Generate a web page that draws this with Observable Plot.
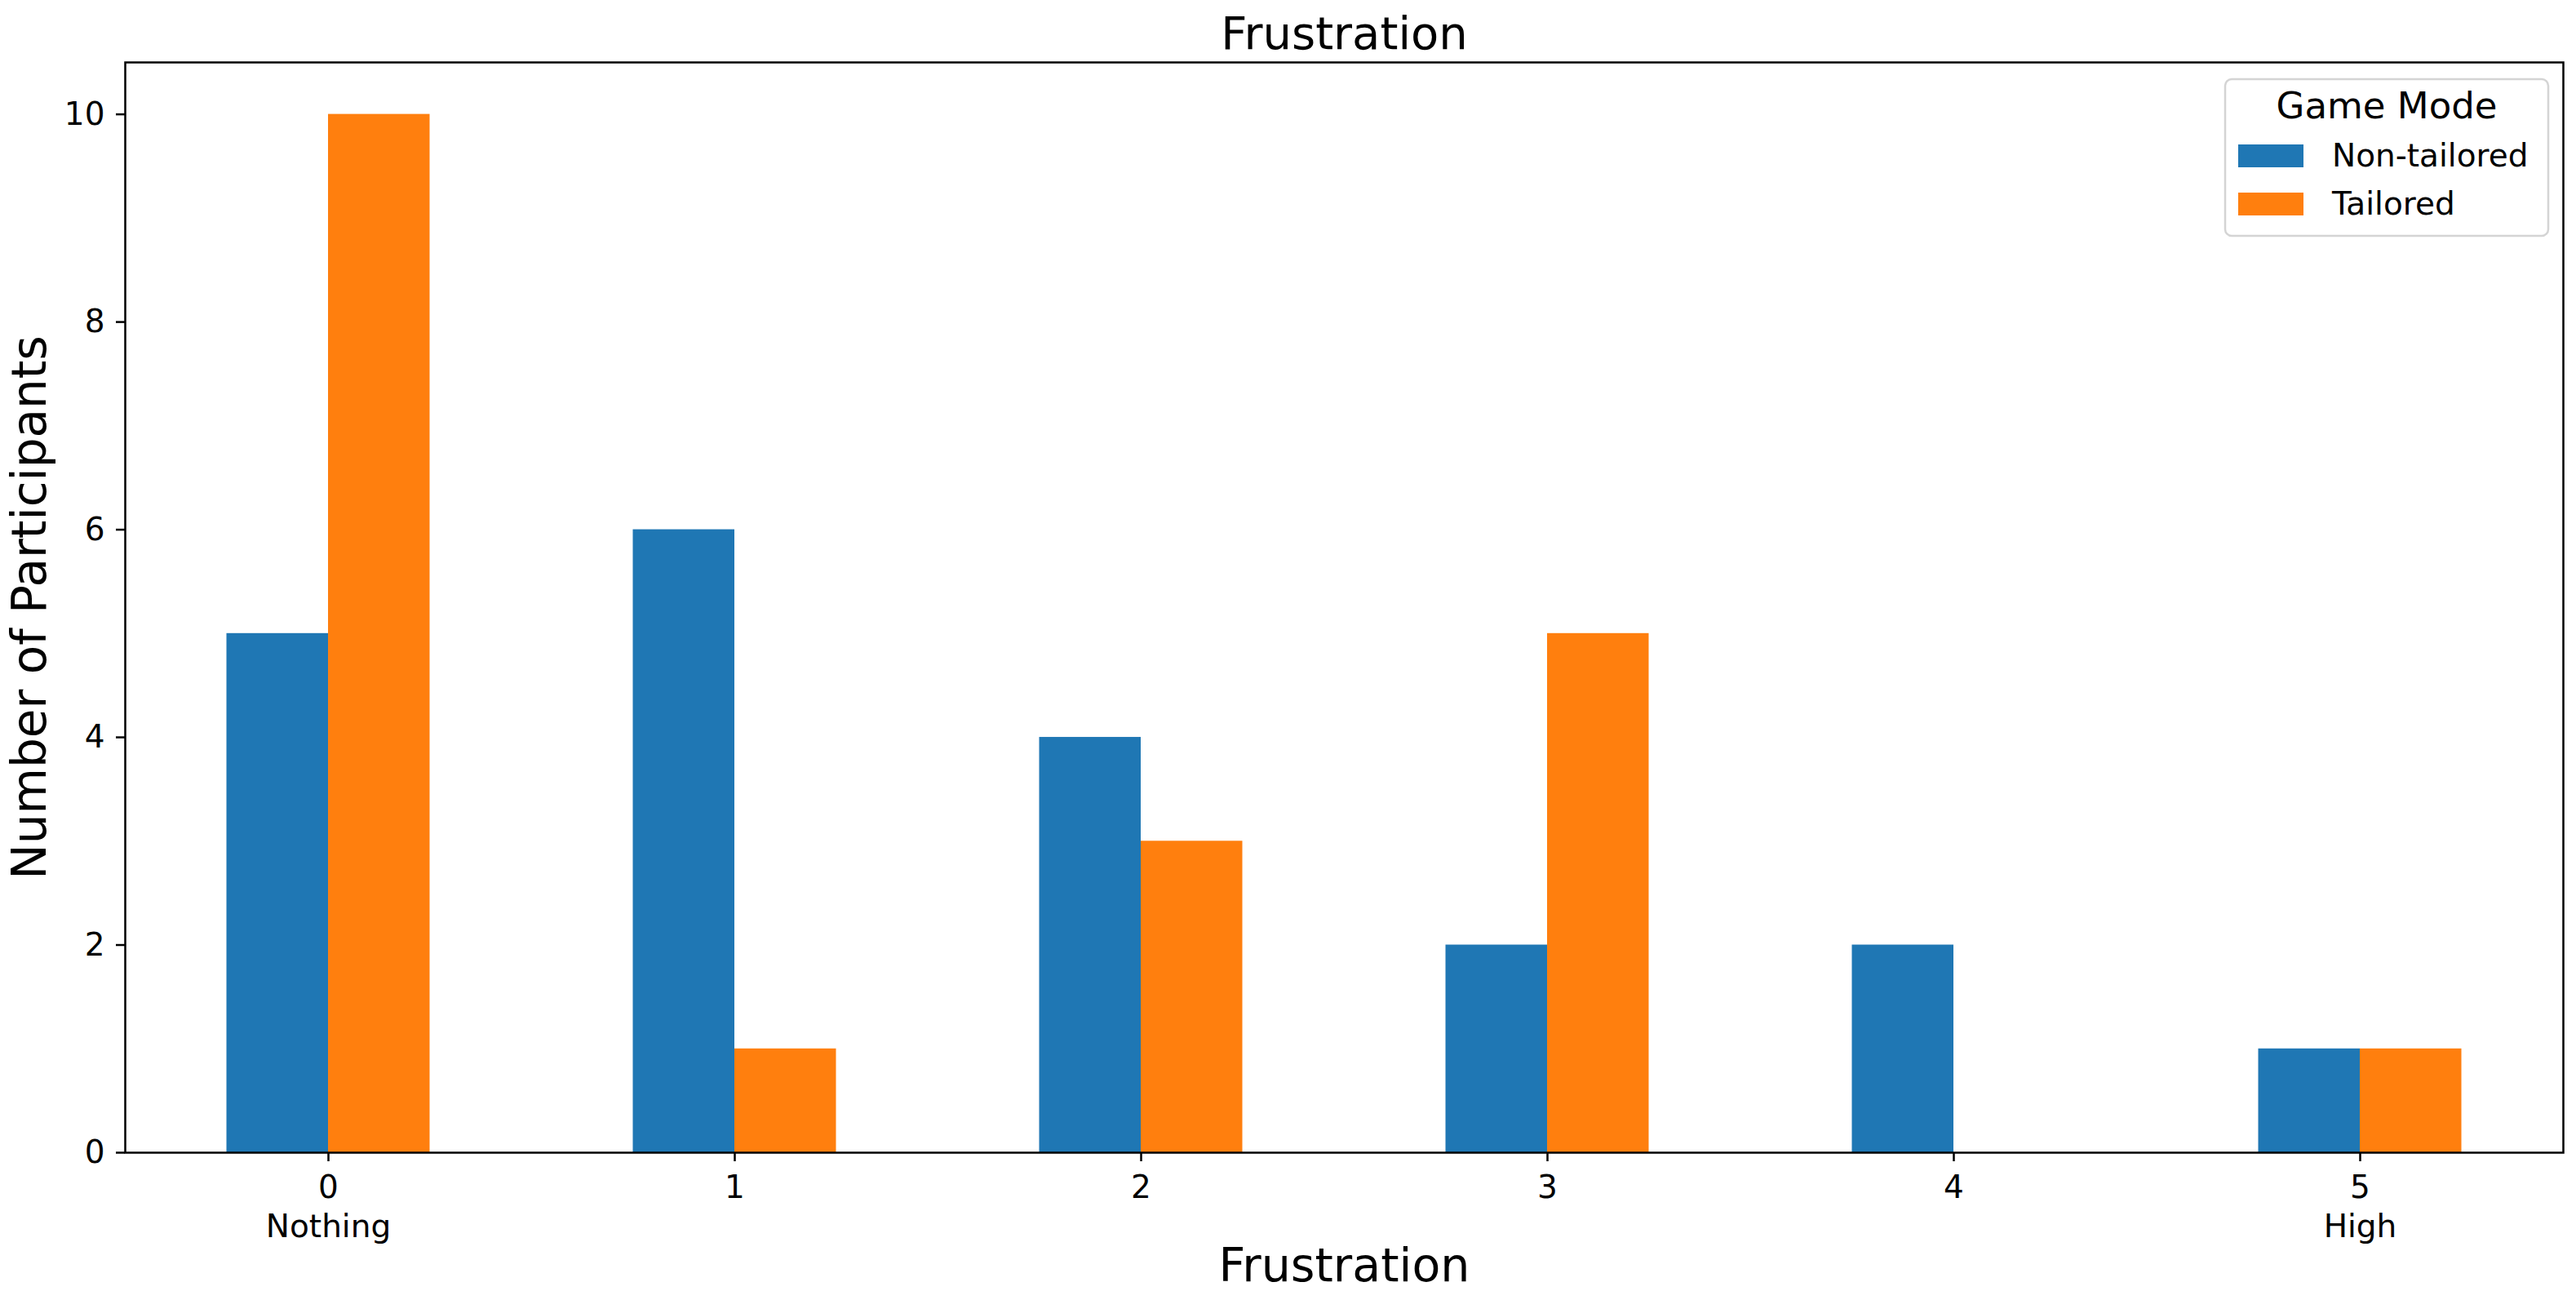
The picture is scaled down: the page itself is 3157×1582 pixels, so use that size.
<!DOCTYPE html>
<html>
<head>
<meta charset="utf-8">
<script src="https://cdn.jsdelivr.net/npm/d3@7"></script>
<script src="https://cdn.jsdelivr.net/npm/@observablehq/plot@0.6"></script>
<style>
  html, body { margin: 0; padding: 0; background: #fff; }
  #chart { position: relative; width: 3157px; height: 1582px; }
  svg { font-family: "DejaVu Sans", sans-serif; }
</style>
</head>
<body>
<div id="chart"></div>
<script>
// ---- data ----
const levels = [0, 1, 2, 3, 4, 5];
const tickLabels = ["0\nNothing", "1", "2", "3", "4", "5\nHigh"];
const modes = ["Non-tailored", "Tailored"];
const nonTailored = [5, 6, 4, 2, 2, 1];
const tailored = [10, 1, 3, 5, 0, 1];
const yTicks = [0, 2, 4, 6, 8, 10];
const colors = ["#1f77b4", "#ff7f0e"];
const titleText = "Frustration";
const xLabel = "Frustration";
const yLabel = "Number of Participants";
const legendTitle = "Game Mode";

// long table
const rows = [];
levels.forEach((lv, i) => {
  rows.push({level: lv, mode: modes[0], count: nonTailored[i]});
  rows.push({level: lv, mode: modes[1], count: tailored[i]});
});
const groupWidth = 0.5;
const barW = groupWidth / modes.length;
const x1 = d => d.level - groupWidth / 2 + modes.indexOf(d.mode) * barW;
const x2 = d => x1(d) + barW;

const W = 3157, H = 1582;
const mL = 153, mR = 16, mT = 76, mB = 170;

const plot = Plot.plot({
  width: W,
  height: H,
  marginLeft: mL,
  marginRight: mR,
  marginTop: mT,
  marginBottom: mB,
  style: {fontFamily: "DejaVu Sans, sans-serif", color: "#000", background: "#fff"},
  x: {type: "linear", domain: [-0.5, 5.5]},
  y: {domain: [0, 10.5]},
  color: {domain: modes, range: colors},
  marks: [
    Plot.rectY(rows, {x1, x2, y: "count", fill: "mode", inset: 0}),
    Plot.axisX({ticks: levels, tickFormat: v => tickLabels[levels.indexOf(v)], tickSize: 11, tickPadding: 11, fontSize: 39, lineHeight: 1.22, strokeWidth: 2.5, label: null, stroke: "#000"}),
    Plot.axisY({ticks: yTicks, tickFormat: d => String(d), tickSize: 11, tickPadding: 14, fontSize: 39, strokeWidth: 2.5, label: null, stroke: "#000"}),
    Plot.frame({stroke: "#000", strokeWidth: 2.5}),
    Plot.text([titleText], {frameAnchor: "top", lineAnchor: "bottom", textAnchor: "middle", dy: -17, fontSize: 56, fill: "#000"}),
    Plot.text([xLabel], {frameAnchor: "bottom", lineAnchor: "bottom", textAnchor: "middle", dy: 157, fontSize: 57, fill: "#000"}),
    Plot.text([yLabel], {frameAnchor: "left", lineAnchor: "bottom", textAnchor: "middle", rotate: -90, dx: -98, fontSize: 58, fill: "#000"})
  ]
});

document.getElementById("chart").appendChild(plot);

// legend (upper right, inside the axes)
const svg = d3.select(plot);
const lg = svg.append("g").attr("font-family", "DejaVu Sans, sans-serif").attr("text-anchor", "start");
const bx = 2727, by = 97, bw = 396, bh = 192;
lg.append("rect").attr("x", bx).attr("y", by).attr("width", bw).attr("height", bh)
  .attr("rx", 8).attr("fill", "#fff").attr("fill-opacity", 0.8)
  .attr("stroke", "#d4d4d4").attr("stroke-width", 2.5);
lg.append("text").attr("x", bx + bw / 2).attr("y", 145).attr("text-anchor", "middle")
  .attr("font-size", 45).attr("fill", "#000").text(legendTitle);
const rowBase = [204, 263];
modes.forEach((m, i) => {
  lg.append("rect").attr("x", 2743).attr("y", rowBase[i] - 27).attr("width", 80).attr("height", 28)
    .attr("fill", colors[i]);
  lg.append("text").attr("x", 2858).attr("y", rowBase[i]).attr("text-anchor", "start").attr("font-size", 39)
    .attr("fill", "#000").text(m);
});
</script>
</body>
</html>
